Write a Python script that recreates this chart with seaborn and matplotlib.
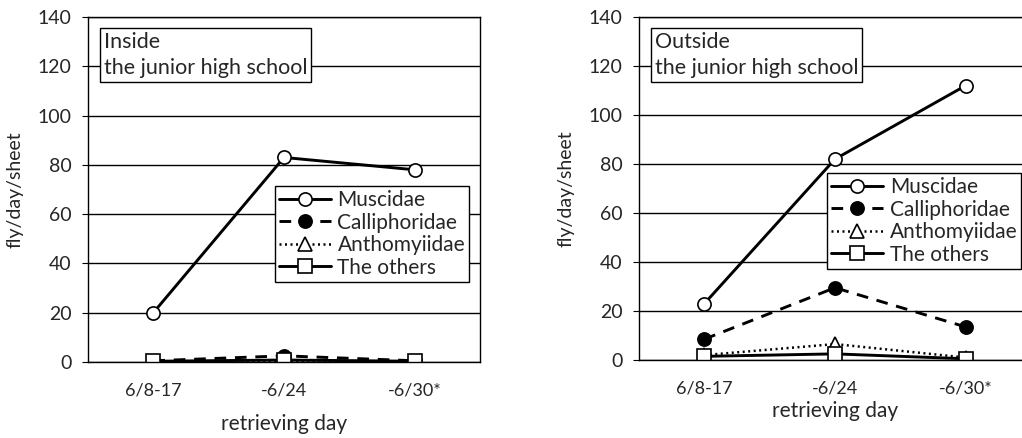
import pandas as pd
import seaborn as sns
import matplotlib.pyplot as plt
from matplotlib.ticker import FixedLocator

days = ['6/8-17', '-6/24', '-6/30*']
families = ['Muscidae', 'Calliphoridae', 'Anthomyiidae', 'The others']

# inside the junior high school
inside_muscidae = [20, 83, 78]
inside_calliphoridae = [0.5, 2.5, 0.5]
inside_anthomyiidae = [0.2, 0.5, 0.2]
inside_others = [0.3, 0.8, 0.3]

# outside the junior high school
outside_muscidae = [23, 82, 112]
outside_calliphoridae = [8.5, 29.5, 13.5]
outside_anthomyiidae = [2, 6.5, 1]
outside_others = [1.5, 2.5, 0.5]

sns.set_style('white')
plt.rcParams['font.family'] = ['Lato', 'DejaVu Sans']

styles = {
    'Muscidae': dict(ls='-', marker='o', mfc='white'),
    'Calliphoridae': dict(ls=(0, (4, 3)), marker='o', mfc='black'),
    'Anthomyiidae': dict(ls=(0, (0.8, 1.4)), marker='^', mfc='white'),
    'The others': dict(ls='-', marker='s', mfc='white'),
}


def make_df(values):
    rows = []
    for fam, vals in zip(families, values):
        for d, v in zip(days, vals):
            rows.append({'day': d, 'family': fam, 'value': v})
    return pd.DataFrame(rows)


def draw_panel(ax, df, title, legend_anchor, xlabelpad):
    for fam in families:
        sub = df[df['family'] == fam]
        st = styles[fam]
        lw = 1.8 if fam == 'Anthomyiidae' else 2.1
        sns.lineplot(data=sub, x='day', y='value', ax=ax, color='black',
                     linestyle=st['ls'], linewidth=lw, marker=st['marker'],
                     markersize=9.5, markerfacecolor=st['mfc'],
                     markeredgecolor='black', markeredgewidth=1.2,
                     label=fam, sort=False)
    ax.set_ylim(0, 140)
    ax.set_xlim(-0.5, 2.5)
    ax.set_yticks(range(0, 141, 20))
    ax.grid(axis='y', color='black', linewidth=1)
    ax.grid(axis='x', visible=False)
    for sp in ax.spines.values():
        sp.set_visible(True)
        sp.set_color('black')
        sp.set_linewidth(1)
    ax.xaxis.set_minor_locator(FixedLocator([0.5, 1.5]))
    ax.tick_params(axis='x', which='major', length=0, labelsize=13, pad=15)
    ax.tick_params(axis='x', which='minor', length=4, direction='in', color='black')
    ax.tick_params(axis='y', length=4, direction='out', color='black',
                   labelsize=14, left=True, pad=8)
    ax.set_xlabel('retrieving day', fontsize=15, labelpad=xlabelpad)
    ax.set_ylabel('fly/day/sheet', fontsize=14, labelpad=10)

    leg = ax.legend(loc='upper left', bbox_to_anchor=legend_anchor,
                    frameon=True, fancybox=False, fontsize=15,
                    handlelength=2.5, handletextpad=0.3,
                    labelspacing=0.12, borderpad=0.2, borderaxespad=0)
    leg.get_frame().set_edgecolor('black')
    leg.get_frame().set_linewidth(1)
    leg.get_frame().set_alpha(1)

    ax.text(0.04, 0.957, title, transform=ax.transAxes, ha='left', va='top',
            fontsize=15.5, linespacing=1.4,
            bbox=dict(boxstyle='square,pad=0.18', facecolor='white',
                      edgecolor='black', linewidth=1), zorder=5)


fig = plt.figure(figsize=(10.22, 4.38), dpi=100)
ax1 = fig.add_axes([88 / 1022, 1 - 362 / 438, 392 / 1022, 345 / 438])
ax2 = fig.add_axes([639 / 1022, 1 - 360 / 438, 392 / 1022, 343 / 438])

draw_panel(ax1, make_df([inside_muscidae, inside_calliphoridae,
                         inside_anthomyiidae, inside_others]),
           'Inside\nthe junior high school', (0.477, 0.51), 11)
draw_panel(ax2, make_df([outside_muscidae, outside_calliphoridae,
                         outside_anthomyiidae, outside_others]),
           'Outside\nthe junior high school', (0.48, 0.545), 3)

fig.savefig('out.png', dpi=100)
